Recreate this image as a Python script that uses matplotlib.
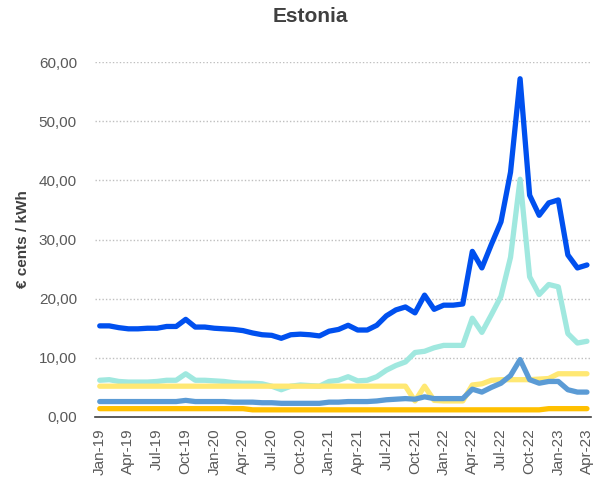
import numpy as np
import matplotlib
matplotlib.use("Agg")
import matplotlib.pyplot as plt

plt.rcParams['font.family'] = ['Liberation Sans', 'DejaVu Sans']

# monthly values, Jan-19 .. Apr-23 (euro cents / kWh)
months = ["Jan", "Feb", "Mar", "Apr", "May", "Jun", "Jul", "Aug", "Sep", "Oct", "Nov", "Dec"]
labels = [f"{m}-{y}" for y in range(19, 24) for m in months][:52]

total = [15.4, 15.4, 15.1, 14.9, 14.9, 15.0, 15.0, 15.3, 15.3, 16.5,
         15.2, 15.2, 15.0, 14.9, 14.8, 14.6, 14.2, 13.9, 13.8, 13.3,
         13.9, 14.0, 13.9, 13.7, 14.5, 14.8, 15.5, 14.7, 14.7, 15.5,
         17.1, 18.1, 18.6, 17.6, 20.6, 18.2, 18.9, 18.9, 19.1, 28.0,
         25.2, 29.2, 33.0, 41.4, 57.2, 37.5, 34.1, 36.2, 36.7, 27.4,
         25.2, 25.7]
energy = [6.2, 6.3, 6.0, 5.9, 5.9, 5.9, 6.0, 6.2, 6.2, 7.3, 6.2, 6.2, 6.1, 6.0, 5.8, 5.7,
          5.7, 5.6, 5.2, 4.6, 5.2, 5.4, 5.3, 5.2, 6.0, 6.2, 6.8, 6.1, 6.2, 6.8, 7.9, 8.7, 9.3, 10.9,
          11.1, 11.7, 12.1, 12.1, 12.1, 16.7, 14.3, 17.3, 20.4, 27.0, 40.2, 23.7, 20.7, 22.4, 22.0,
          14.1, 12.5, 12.8]
network = [5.2] * 33 + [2.7, 5.2, 2.8, 2.7, 2.7, 2.7, 5.4, 5.6, 6.2, 6.3, 6.3, 6.3, 6.3,
                        6.4, 6.5, 7.3, 7.3, 7.3, 7.3]
taxes = [2.6] * 9 + [2.8] + [2.6, 2.6, 2.6, 2.6, 2.5, 2.5] + \
        [2.5, 2.4, 2.4, 2.3, 2.3, 2.3, 2.3, 2.3] + \
        [2.5, 2.5, 2.6, 2.6, 2.6, 2.7, 2.9, 3.0, 3.1] + \
        [3.0, 3.4, 3.1, 3.1, 3.1, 3.1, 4.7, 4.2, 5.0, 5.7, 7.0, 9.7, 6.3, 5.7, 6.0, 6.0,
         4.6, 4.2, 4.2]
vat = [1.4] * 16 + [1.2] * 31 + [1.4] * 5

x = np.arange(len(labels))

fig = plt.figure(figsize=(6.01, 4.82), dpi=100)
ax = fig.add_axes([0.158, 0.135, 0.825, 0.736])

lw = 3.8
ax.plot(x, total, color='#0050EF', lw=lw, solid_capstyle='round', zorder=5)
ax.plot(x, energy, color='#A0E8DF', lw=lw, solid_capstyle='round', zorder=3)
ax.plot(x, network, color='#FFE873', lw=lw, solid_capstyle='round', zorder=4)
ax.plot(x, taxes, color='#5B9BD5', lw=lw, solid_capstyle='round', zorder=4.5)
ax.plot(x, vat, color='#FFC000', lw=lw, solid_capstyle='round', zorder=4.6)

ax.set_xlim(-0.5, 51.4)
ax.set_ylim(0, 60)
ax.set_yticks(np.arange(0, 61, 10))
ax.set_yticklabels([f"{v:.2f}".replace('.', ',') for v in range(0, 61, 10)])
ax.set_xticks(x[::3])
ax.set_xticklabels(labels[::3], rotation=90)
ax.tick_params(axis='both', length=0, labelsize=11, colors='#595959')
ax.tick_params(axis='y', pad=13)
ax.tick_params(axis='x', pad=8)

ax.grid(axis='y', color='#BFBFBF', linestyle=(0, (1, 1.5)), linewidth=1)
ax.set_axisbelow(True)
for s in ['top', 'right', 'left']:
    ax.spines[s].set_visible(False)
ax.spines['bottom'].set_color('#404040')
ax.spines['bottom'].set_linewidth(1.2)

ax.set_ylabel("€ cents / kWh", fontsize=11, fontweight='bold', color='#404040', labelpad=6)
fig.text(0.516, 0.965, "Estonia", ha='center', va='center', fontsize=15,
         fontweight='bold', color='#404040')

fig.savefig("out.png", dpi=100)
